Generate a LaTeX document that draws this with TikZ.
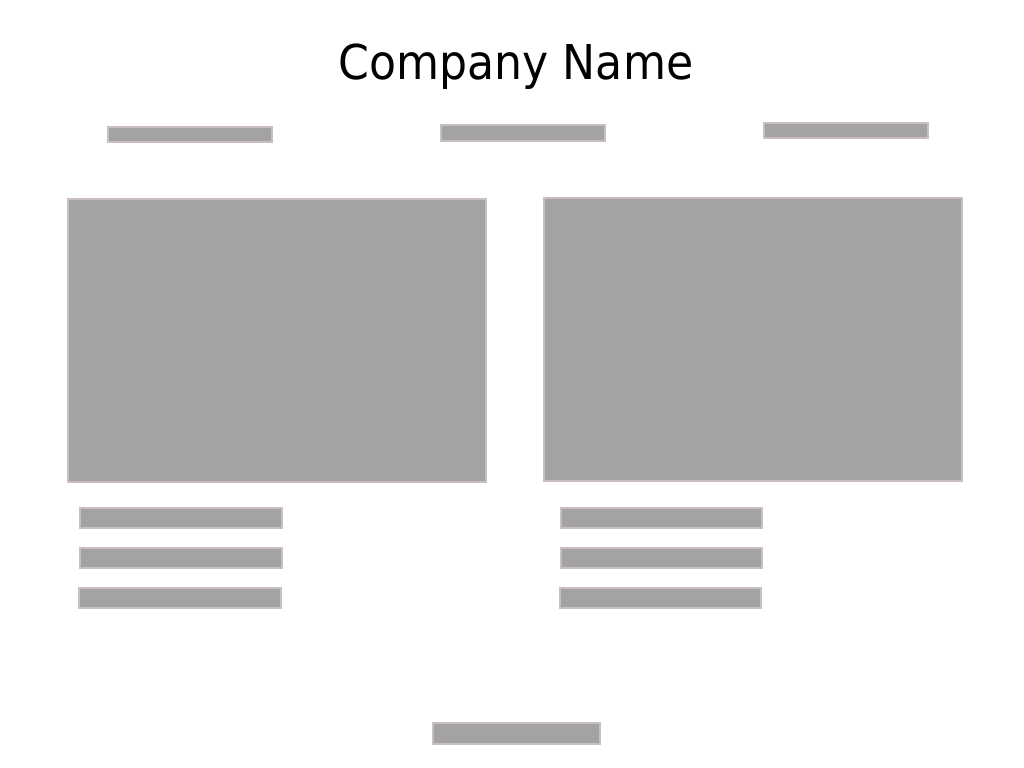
\documentclass[tikz,border=0pt]{standalone}
\usepackage{fontspec}
\setmainfont{DejaVu Sans}
\newfontfamily\titlefont[FakeStretch=0.92]{DejaVu Sans}
\usepackage{xcolor}
\definecolor{wirefill}{HTML}{A3A3A3}
\definecolor{wireedge}{HTML}{C9BFBF}
\begin{document}
\begin{tikzpicture}[wire/.style={fill=wirefill,draw=wireedge,line width=0.4pt}]
\useasboundingbox (0,0) rectangle (10.24,7.68);
\node[anchor=base,inner sep=0pt,font=\titlefont\fontsize{13.66}{16}\selectfont] (title) at (5.16,6.88) {Company Name};
% navigation
\draw[wire] (1.08,6.41) rectangle (2.72,6.26);
\draw[wire] (4.41,6.43) rectangle (6.05,6.27);
\draw[wire] (7.64,6.45) rectangle (9.28,6.30);
% pictures
\draw[wire] (0.68,5.69) rectangle (4.86,2.86);
\draw[wire] (5.44,5.70) rectangle (9.62,2.87);
% text lines left
\draw[wire] (0.80,2.60) rectangle (2.82,2.40);
\draw[wire] (0.80,2.20) rectangle (2.82,2.00);
\draw[wire] (0.79,1.80) rectangle (2.81,1.60);
% text lines right
\draw[wire] (5.61,2.60) rectangle (7.62,2.40);
\draw[wire] (5.61,2.20) rectangle (7.62,2.00);
\draw[wire] (5.60,1.80) rectangle (7.61,1.60);
% footer
\draw[wire] (4.33,0.45) rectangle (6.00,0.24);
\end{tikzpicture}
\end{document}
